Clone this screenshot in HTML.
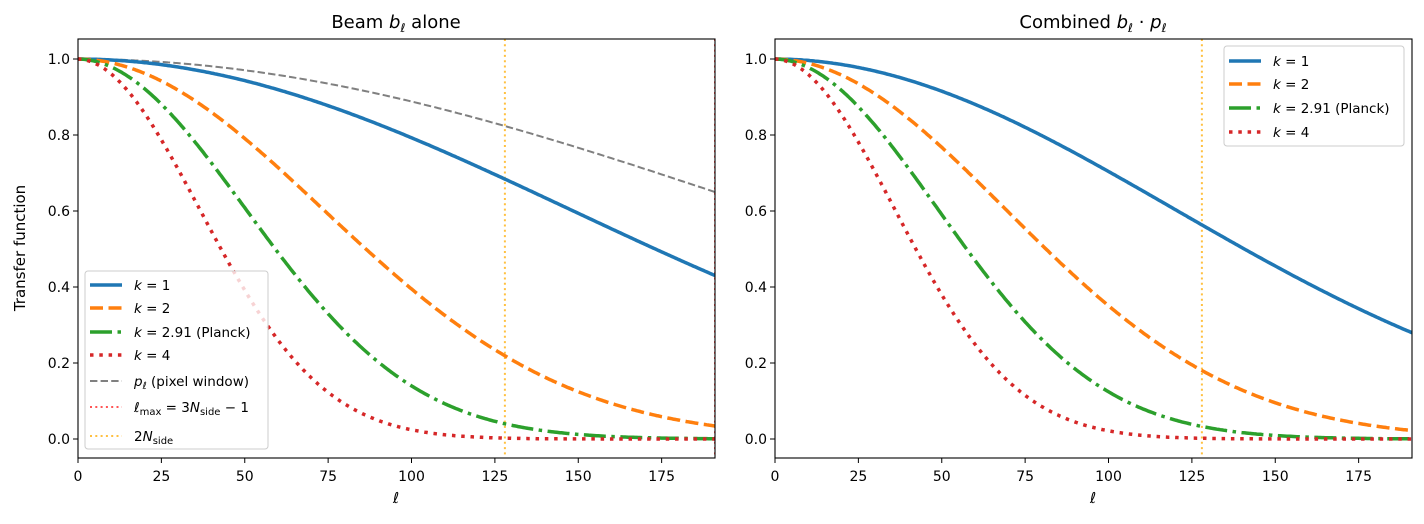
<!DOCTYPE html>
<html><head><meta charset="utf-8"><style>
body{margin:0;background:#fff;}
svg{display:block;font-family:"DejaVu Sans","Liberation Sans",sans-serif;}
</style></head><body>
<svg id="s" width="1424" height="524" xmlns="http://www.w3.org/2000/svg">
<rect width="1424" height="524" fill="#fff"/>
<g id="plots"></g>
<text x="396" y="28" font-size="18" text-anchor="middle">Beam <tspan font-style="italic">b</tspan><tspan font-size="12" font-style="italic" dy="4">ℓ</tspan><tspan dy="-4"> alone</tspan></text>
<text x="1093" y="28" font-size="18" text-anchor="middle">Combined <tspan font-style="italic">b</tspan><tspan font-size="12" font-style="italic" dy="4">ℓ</tspan><tspan dy="-4"> · </tspan><tspan font-style="italic">p</tspan><tspan font-size="12" font-style="italic" dy="4">ℓ</tspan></text>
<text transform="translate(25,248) rotate(-90)" font-size="15" text-anchor="middle">Transfer function</text>
<text x="396" y="503" font-size="15" font-style="italic" text-anchor="middle">ℓ</text>
<text x="1093" y="503" font-size="15" font-style="italic" text-anchor="middle">ℓ</text>
<!-- left legend -->
<g font-size="13.5">
<rect x="85" y="271" width="183" height="178" rx="3" fill="#fff" fill-opacity="0.8" stroke="#ccc"/>
<line x1="90" x2="122" y1="285" y2="285" stroke="#1f77b4" stroke-width="3.5"/>
<line x1="90" x2="122" y1="308" y2="308" stroke="#ff7f0e" stroke-width="3.5" stroke-dasharray="13,5.5"/>
<line x1="90" x2="122" y1="332" y2="332" stroke="#2ca02c" stroke-width="3.5" stroke-dasharray="22,5.5,3.5,5.5"/>
<line x1="90" x2="122" y1="355" y2="355" stroke="#d62728" stroke-width="3.5" stroke-dasharray="3.5,5.8"/>
<line x1="90" x2="122" y1="381" y2="381" stroke="#808080" stroke-width="2" stroke-dasharray="7.4,3.2"/>
<line x1="90" x2="122" y1="407" y2="407" stroke="#ff5555" stroke-width="2" stroke-dasharray="2,3.3"/>
<line x1="90" x2="122" y1="436" y2="436" stroke="#ffc040" stroke-width="2" stroke-dasharray="2,3.3"/>
<text x="134" y="290"><tspan font-style="italic">k</tspan> = 1</text>
<text x="134" y="313"><tspan font-style="italic">k</tspan> = 2</text>
<text x="134" y="337"><tspan font-style="italic">k</tspan> = 2.91 (Planck)</text>
<text x="134" y="360"><tspan font-style="italic">k</tspan> = 4</text>
<text x="134" y="386"><tspan font-style="italic">p</tspan><tspan font-size="10" font-style="italic" dy="3">ℓ</tspan><tspan dy="-3"> (pixel window)</tspan></text>
<text x="134" y="412"><tspan font-style="italic">ℓ</tspan><tspan font-size="10" dy="3">max</tspan><tspan dy="-3"> = 3</tspan><tspan font-style="italic">N</tspan><tspan font-size="10" dy="3">side</tspan><tspan dy="-3"> − 1</tspan></text>
<text x="134" y="441">2<tspan font-style="italic">N</tspan><tspan font-size="10" dy="3">side</tspan></text>
</g>
<!-- right legend -->
<g font-size="13.5">
<rect x="1224" y="46" width="180" height="100" rx="3" fill="#fff" fill-opacity="0.8" stroke="#ccc"/>
<line x1="1229" x2="1261" y1="61" y2="61" stroke="#1f77b4" stroke-width="3.5"/>
<line x1="1229" x2="1261" y1="84" y2="84" stroke="#ff7f0e" stroke-width="3.5" stroke-dasharray="13,5.5"/>
<line x1="1229" x2="1261" y1="108" y2="108" stroke="#2ca02c" stroke-width="3.5" stroke-dasharray="22,5.5,3.5,5.5"/>
<line x1="1229" x2="1261" y1="132" y2="132" stroke="#d62728" stroke-width="3.5" stroke-dasharray="3.5,5.8"/>
<text x="1273" y="66"><tspan font-style="italic">k</tspan> = 1</text>
<text x="1273" y="89"><tspan font-style="italic">k</tspan> = 2</text>
<text x="1273" y="113"><tspan font-style="italic">k</tspan> = 2.91 (Planck)</text>
<text x="1273" y="137"><tspan font-style="italic">k</tspan> = 4</text>
</g>
</svg>
<script>
(function(){
var NS="http://www.w3.org/2000/svg",g=document.getElementById("plots");
function el(n,a,p){var e=document.createElementNS(NS,n);for(var k in a)e.setAttribute(k,a[k]);(p||g).appendChild(e);return e;}
var s2=4.6e-5,a=1.175e-5;
function b(l,k){return Math.exp(-l*(l+1)*s2*k*k/2);}
function p(l){return Math.exp(-a*l*(l+1));}
var styles=[[1,"#1f77b4",""],[2,"#ff7f0e","13,5.5"],[2.91,"#2ca02c","22,5.5,3.5,5.5"],[4,"#d62728","3.5,5.8"]];
[[78,false],[775,true]].forEach(function(P){
 var x0=P[0],W=637,y0=39,H=419;
 function X(l){return x0+l*W/191;} function Y(v){return 439-v*380;}
 var cid="c"+x0;
 var cp=el("clipPath",{id:cid}); el("rect",{x:x0,y:y0,width:W,height:H},cp);
 var cg=el("g",{"clip-path":"url(#"+cid+")"});
 el("line",{x1:X(128),x2:X(128),y1:y0,y2:y0+H,stroke:"#ffc040","stroke-width":2,"stroke-dasharray":"2,3.3"},cg);
 if(!P[1]) el("line",{x1:X(191),x2:X(191),y1:y0,y2:y0+H,stroke:"#ff5555","stroke-width":2,"stroke-dasharray":"2,3.3"},cg);
 if(!P[1]){var d="";for(var l=0;l<=191;l+=1)d+=(l?"L":"M")+X(l).toFixed(1)+","+Y(p(l)).toFixed(1);
  el("path",{d:d,fill:"none",stroke:"#808080","stroke-width":2,"stroke-dasharray":"7.4,3.2"},cg);}
 styles.forEach(function(st){var d="";for(var l=0;l<=191;l+=0.5){var v=b(l,st[0]);if(P[1])v*=p(l);d+=(l?"L":"M")+X(l).toFixed(1)+","+Y(v).toFixed(1);}
  var at={d:d,fill:"none",stroke:st[1],"stroke-width":3.5};if(st[2])at["stroke-dasharray"]=st[2];el("path",at,cg);});
 el("rect",{x:x0,y:y0,width:W,height:H,fill:"none",stroke:"#000","stroke-width":1.1});
 [0,25,50,75,100,125,150,175].forEach(function(t){var x=X(t);el("line",{x1:x,x2:x,y1:458,y2:463,stroke:"#000"});
  var tx=el("text",{x:x,y:481,"font-size":"14","text-anchor":"middle"});tx.textContent=t;});
 [0,0.2,0.4,0.6,0.8,1.0].forEach(function(t){var y=Y(t);el("line",{x1:x0-5,x2:x0,y1:y,y2:y,stroke:"#000"});
  var tx=el("text",{x:x0-8,y:y+5,"font-size":"14","text-anchor":"end"});tx.textContent=t.toFixed(1);});
});
})();
</script>
</body></html>
